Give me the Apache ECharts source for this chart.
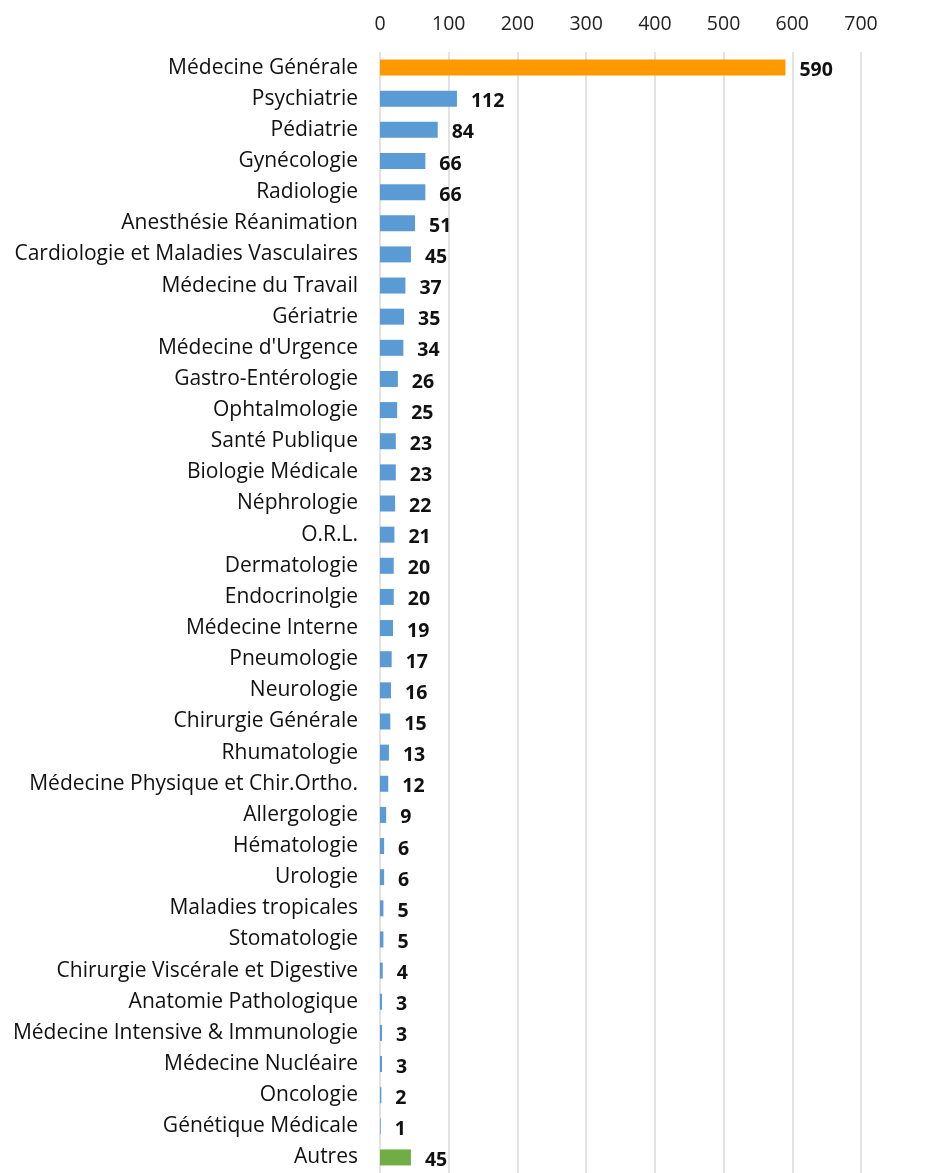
<!DOCTYPE html>
<html lang="fr">
<head>
    <meta charset="UTF-8">
    <title>Spécialités</title>
    <script src="https://cdn.jsdelivr.net/npm/echarts@6/dist/echarts.min.js"></script>
    <style>
        html, body { margin: 0; padding: 0; background: #fff; overflow: hidden; }
        #main { width: 929px; height: 1173px; }
    </style>
</head>
<body>
<div id="main"></div>
<script>
    // catégories, de haut en bas
    let specialites = [
        'Médecine Générale', 'Psychiatrie', 'Pédiatrie', 'Gynécologie', 'Radiologie',
        'Anesthésie Réanimation', 'Cardiologie et Maladies Vasculaires', 'Médecine du Travail',
        'Gériatrie', "Médecine d'Urgence", 'Gastro-Entérologie', 'Ophtalmologie', 'Santé Publique',
        'Biologie Médicale', 'Néphrologie', 'O.R.L.', 'Dermatologie', 'Endocrinolgie',
        'Médecine Interne', 'Pneumologie', 'Neurologie', 'Chirurgie Générale', 'Rhumatologie',
        'Médecine Physique et Chir.Ortho.', 'Allergologie', 'Hématologie', 'Urologie',
        'Maladies tropicales', 'Stomatologie', 'Chirurgie Viscérale et Digestive',
        'Anatomie Pathologique', 'Médecine Intensive & Immunologie', 'Médecine Nucléaire',
        'Oncologie', 'Génétique Médicale', 'Autres'
    ];
    let effectifs = [
        590, 112, 84, 66, 66, 51, 45, 37, 35, 34, 26, 25, 23, 23, 22, 21, 20, 20,
        19, 17, 16, 15, 13, 12, 9, 6, 6, 5, 5, 4, 3, 3, 3, 2, 1, 45
    ];
    let axisTicks = [0, 100, 200, 300, 400, 500, 600, 700];

    let couleurs = function (i) {
        if (i === 0) return '#ff9900';
        if (i === specialites.length - 1) return '#70ad47';
        return '#5b9bd5';
    };

    let myChart = echarts.init(document.getElementById('main'));

    let option = {
        animation: false,
        textStyle: { fontFamily: 'Open Sans, sans-serif' },
        grid: { left: 380, right: 68, top: 52, bottom: -5 },
        xAxis: {
            type: 'value',
            position: 'top',
            min: axisTicks[0],
            max: axisTicks[axisTicks.length - 1],
            interval: 100,
            axisLine: { show: false },
            axisTick: { show: false },
            axisLabel: { fontSize: 19.5, color: '#222', margin: 18 },
            splitLine: { lineStyle: { color: '#d9d9d9', width: 1.5 } }
        },
        yAxis: {
            type: 'category',
            inverse: true,
            data: specialites,
            axisLine: { show: false },
            axisTick: { show: false },
            axisLabel: { fontSize: 21, color: '#111', margin: 22, padding: [3, 0, 0, 0] }
        },
        series: [{
            type: 'bar',
            barWidth: 16,
            data: effectifs.map(function (v, i) {
                return { value: v, itemStyle: { color: couleurs(i) } };
            }),
            label: {
                show: true,
                position: 'right',
                distance: 14,
                offset: [0, 3],
                fontSize: 19.5,
                fontWeight: 'bold',
                color: '#111'
            }
        }]
    };

    myChart.setOption(option);
</script>
</body>
</html>
